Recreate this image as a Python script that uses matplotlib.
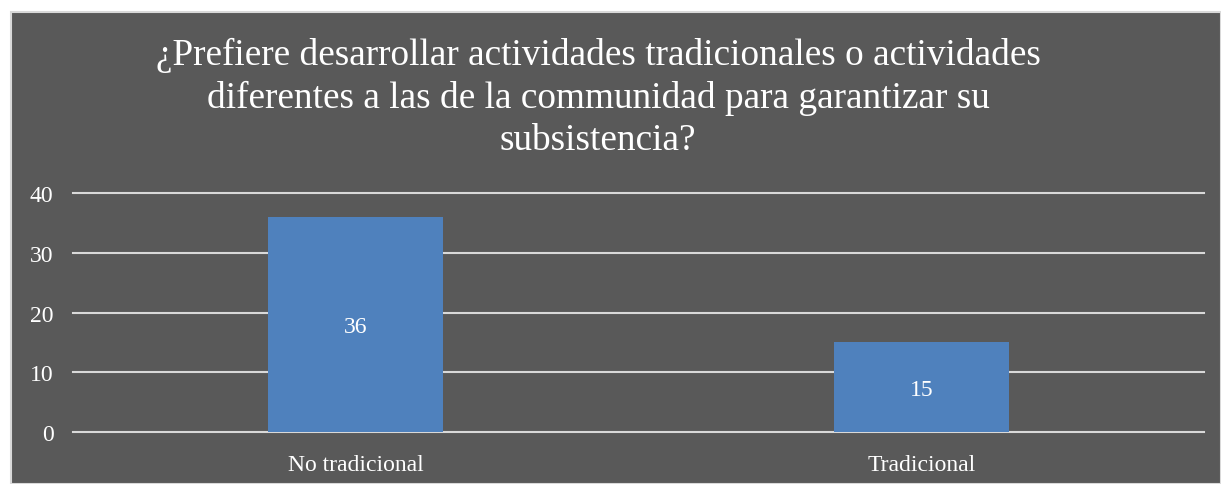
import matplotlib
matplotlib.use("Agg")
import matplotlib.pyplot as plt
from matplotlib.patches import Rectangle

categories = ["No tradicional", "Tradicional"]
values = [36, 15]
yticks = [0, 10, 20, 30, 40]
title = ("¿Prefiere desarrollar actividades tradicionales o actividades\n"
         "diferentes a las de la communidad para garantizar su\n"
         "subsistencia?")

bg = "#595959"
bar_color = "#4F81BD"
text_color = "white"
grid_color = "#D9D9D9"

plt.rcParams["font.family"] = ["Liberation Serif", "DejaVu Serif"]

fig = plt.figure(figsize=(12.21, 4.85), dpi=100, facecolor="white")
# gray chart area with light border
fig.patches.append(Rectangle((11 / 1221, 0), 1 - 11 / 1221, 1 - 13 / 485,
                             transform=fig.transFigure, facecolor=bg,
                             edgecolor=grid_color, linewidth=1.5, zorder=-1))

ax = fig.add_axes([73 / 1221, 1 - 433 / 485, (1204 - 73) / 1221, (433 - 194) / 485])
ax.set_zorder(1)
ax.set_facecolor("none")

x = range(len(categories))
bars = ax.bar(x, values, width=0.31, color=bar_color, zorder=3)
for b, v in zip(bars, values):
    ax.text(b.get_x() + b.get_width() / 2, v / 2 - 0.4, str(v), ha="center", va="center",
            color=text_color, fontsize=17, zorder=4)

# gridlines (unclipped so the top one keeps full width)
for t in yticks:
    ax.axhline(t, color=grid_color, linewidth=1.5, zorder=1, clip_on=False)

ax.set_xlim(-0.5, 1.5)
ax.set_ylim(0, 40)
ax.set_yticks(yticks)
ax.set_xticks(list(x))
ax.set_xticklabels(categories)
ax.tick_params(axis="both", length=0, colors=text_color, labelsize=17)
ax.tick_params(axis="y", pad=14)
ax.tick_params(axis="x", pad=16)
for s in ax.spines.values():
    s.set_visible(False)

fig.text(598 / 1221, 1 - 98 / 485, title, ha="center", va="center",
         color=text_color, fontsize=26.8, linespacing=1.28)

fig.savefig("out.png", dpi=100, facecolor="white")
